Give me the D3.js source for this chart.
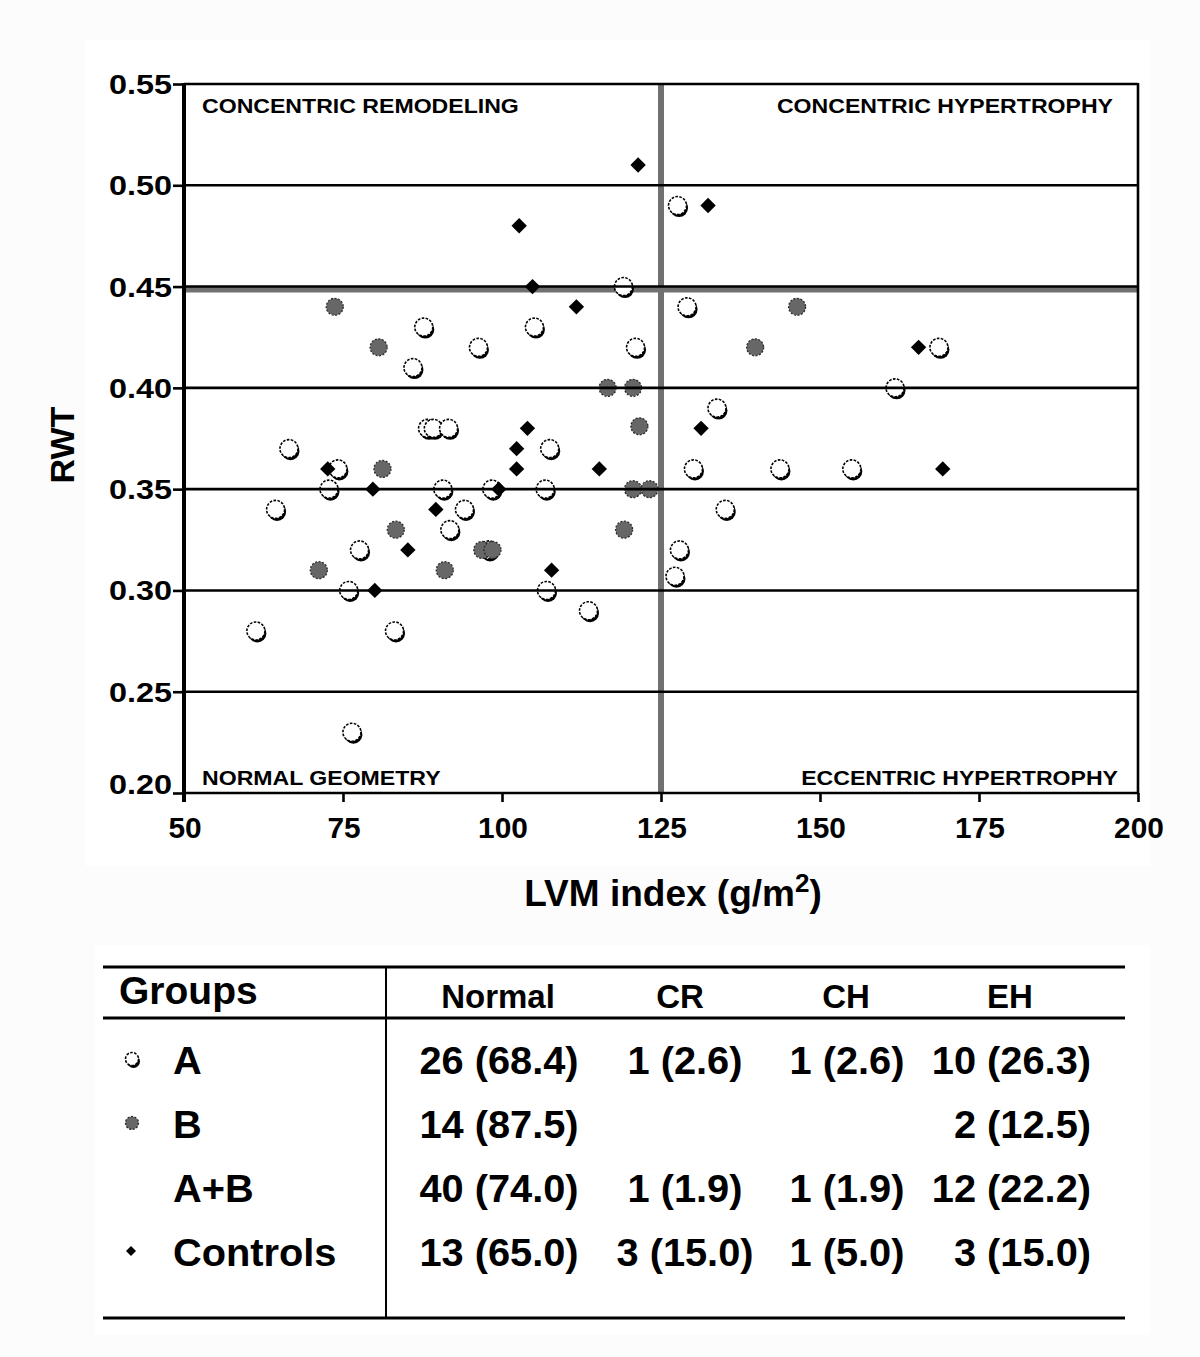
<!DOCTYPE html>
<html><head><meta charset="utf-8">
<script src="https://cdn.jsdelivr.net/npm/d3@7"></script>
<style>
html,body{margin:0;padding:0;background:#fcfcfc;}
svg{display:block;}
text{font-family:"Liberation Sans",Arial,Helvetica,sans-serif;font-weight:bold;fill:#000;}
</style></head>
<body>
<svg id="c" width="1200" height="1357"></svg>
<script>
// ---- data ----
const groupA_x = [61.3,64.4,66.5,72.8,74.2,75.9,76.4,77.6,83.1,86.0,87.7,88.3,89.2,91.6,90.7,91.8,94.1,96.3,98.4,97.9,105.1,106.8,107.5,107.0,113.6,119.1,121.0,127.6,127.9,127.2,129.1,130.1,133.8,135.1,143.7,155.0,161.8,168.7];
const groupA_y = [0.28,0.34,0.37,0.35,0.36,0.30,0.23,0.32,0.28,0.41,0.43,0.38,0.38,0.38,0.35,0.33,0.34,0.42,0.35,0.32,0.43,0.35,0.37,0.30,0.29,0.45,0.42,0.49,0.32,0.307,0.44,0.36,0.39,0.34,0.36,0.36,0.40,0.42];
const groupB_x = [73.7,80.6,81.2,83.3,71.2,91.0,96.9,98.5,116.6,120.6,121.6,120.6,123.2,119.2,139.8,146.4];
const groupB_y = [0.44,0.42,0.36,0.33,0.31,0.31,0.32,0.32,0.40,0.40,0.381,0.35,0.35,0.33,0.42,0.44];
const controls_x = [121.4,102.7,132.4,104.8,111.7,165.5,104.0,131.3,102.3,102.3,115.3,72.6,169.3,79.7,99.5,89.6,85.2,107.8,80.0];
const controls_y = [0.51,0.48,0.49,0.45,0.44,0.42,0.38,0.38,0.37,0.36,0.36,0.36,0.36,0.35,0.35,0.34,0.32,0.31,0.30];

const xTicks = [50,75,100,125,150,175,200];
const yTicks = [0.20,0.25,0.30,0.35,0.40,0.45,0.50,0.55];
const lvmCut = 125, rwtCut = 0.45;
const quadrantLabels = ["CONCENTRIC REMODELING","CONCENTRIC HYPERTROPHY","NORMAL GEOMETRY","ECCENTRIC HYPERTROPHY"];

const tableHeader = ["Groups","Normal","CR","CH","EH"];
const tableGroups = ["A","B","A+B","Controls"];
const colNormal = ["26 (68.4)","14 (87.5)","40 (74.0)","13 (65.0)"];
const colCR = ["1 (2.6)","","1 (1.9)","3 (15.0)"];
const colCH = ["1 (2.6)","","1 (1.9)","1 (5.0)"];
const colEH = ["10 (26.3)","2 (12.5)","12 (22.2)","3 (15.0)"];
const tableSymbols = ["A","B",null,"C"];

// ---- drawing ----
const svg = d3.select("#c");
svg.append("rect").attr("x",85).attr("y",40).attr("width",1065).attr("height",826).attr("fill","#fff");
svg.append("rect").attr("x",95).attr("y",945).attr("width",1055).attr("height",390).attr("fill","#fff");

const x = d3.scaleLinear().domain([50,200]).range([184,1138]);
const y = d3.scaleLinear().domain([0.20,0.55]).range([793,84]);

function txt(g, px, py, s, size, anchor, sx){
  return g.append("text").attr("transform",`translate(${px},${py}) scale(${sx||1},1)`)
    .attr("text-anchor",anchor||"start").attr("font-size",size).text(s);
}

const plot = svg.append("g");

const pA = groupA_x.map((v,i)=>({x:v,y:groupA_y[i]}));
const pB = groupB_x.map((v,i)=>({x:v,y:groupB_y[i]}));
const pC = controls_x.map((v,i)=>({x:v,y:controls_y[i]}));

function drawA(g, cx, cy, r){
  g.append("circle").attr("cx",cx+1.5).attr("cy",cy+2.5).attr("r",r).attr("fill","#000");
  g.append("circle").attr("cx",cx).attr("cy",cy).attr("r",r).attr("fill","#fff")
    .attr("stroke","#000").attr("stroke-width",1.6).attr("stroke-dasharray","2.6,1.4");
}
function drawB(g, cx, cy, r){
  g.append("circle").attr("cx",cx).attr("cy",cy).attr("r",r).attr("fill","#676767")
    .attr("stroke","#2a2a2a").attr("stroke-width",1.3).attr("stroke-dasharray","2,1.6");
}
const diamond = d3.symbol().type(d3.symbolSquare);
function drawC(g, cx, cy, size){
  g.append("path").attr("d",diamond.size(size)()).attr("transform",`translate(${cx},${cy}) rotate(45)`).attr("fill","#000");
}

plot.append("line").attr("x1",x(lvmCut)).attr("x2",x(lvmCut)).attr("y1",y(0.55)).attr("y2",y(0.20))
  .attr("stroke","#707070").attr("stroke-width",6);
plot.append("line").attr("x1",x(50)).attr("x2",x(200)).attr("y1",y(rwtCut)+3).attr("y2",y(rwtCut)+3)
  .attr("stroke","#707070").attr("stroke-width",6);

const pts = svg.append("g");
pA.forEach(d=>drawA(pts, x(d.x), y(d.y), 9));
pB.forEach(d=>drawB(pts, x(d.x), y(d.y), 8.5));
pC.forEach(d=>drawC(pts, x(d.x), y(d.y), 118));

const grid = svg.append("g");
yTicks.forEach(t=>{
  grid.append("line").attr("x1",x(50)).attr("x2",x(200)).attr("y1",y(t)).attr("y2",y(t))
    .attr("stroke","#000").attr("stroke-width",2.6);
});
grid.append("line").attr("x1",x(200)).attr("x2",x(200)).attr("y1",y(0.55)-1).attr("y2",y(0.20)+1)
  .attr("stroke","#000").attr("stroke-width",2.6);

const yAxis = d3.axisLeft(y).tickValues(yTicks).tickFormat(d3.format(".2f")).tickSize(11).tickPadding(2);
const ya = svg.append("g").attr("transform",`translate(${x(50)},0)`).call(yAxis);
ya.select(".domain").remove();
ya.selectAll(".tick line").attr("stroke","#000").attr("stroke-width",2.6);
ya.selectAll(".tick text").remove();
yTicks.forEach(t=>{
  const off = t===0.20 ? -9 : 0;
  txt(svg, 172, y(t)+10+off, d3.format(".2f")(t), 27, "end", 1.2);
});
svg.append("line").attr("x1",x(50)).attr("x2",x(50)).attr("y1",y(0.55)-1).attr("y2",y(0.20)+9)
  .attr("stroke","#000").attr("stroke-width",4);

const xAxis = d3.axisBottom(x).tickValues(xTicks).tickSize(9).tickFormat("");
const xa = svg.append("g").attr("transform",`translate(0,${y(0.20)})`).call(xAxis);
xa.select(".domain").remove();
xa.selectAll(".tick line").attr("stroke","#000").attr("stroke-width",2.6);
xTicks.forEach(t=>{
  txt(svg, x(t)+1, 838, String(t), 29, "middle", 1.03);
});

txt(svg, 202, 113, quadrantLabels[0], 21, "start", 1.1);
txt(svg, 1113, 113, quadrantLabels[1], 21, "end", 1.1);
txt(svg, 202, 785, quadrantLabels[2], 21, "start", 1.1);
txt(svg, 1118, 785, quadrantLabels[3], 21, "end", 1.1);

svg.append("text").attr("transform","translate(74,445) rotate(-90)").attr("text-anchor","middle")
  .attr("font-size",34).text("RWT");
const xt = svg.append("text").attr("x",673).attr("y",906).attr("text-anchor","middle").attr("font-size",37);
xt.append("tspan").text("LVM index (g/m");
xt.append("tspan").attr("font-size",26).attr("dy",-14).text("2");
xt.append("tspan").attr("dy",14).text(")");

// ---- table ----
const tb = svg.append("g");
const L = 103, R = 1125;
tb.append("line").attr("x1",L).attr("x2",R).attr("y1",967).attr("y2",967).attr("stroke","#000").attr("stroke-width",3);
tb.append("line").attr("x1",L).attr("x2",R).attr("y1",1018).attr("y2",1018).attr("stroke","#000").attr("stroke-width",3);
tb.append("line").attr("x1",L).attr("x2",R).attr("y1",1318).attr("y2",1318).attr("stroke","#000").attr("stroke-width",3);
tb.append("line").attr("x1",386).attr("x2",386).attr("y1",966).attr("y2",1318).attr("stroke","#000").attr("stroke-width",2);

txt(tb, 119, 1004, tableHeader[0], 39, "start", 1.0);
txt(tb, 498, 1008, tableHeader[1], 33, "middle", 1.0);
txt(tb, 680, 1008, tableHeader[2], 33, "middle", 1.0);
txt(tb, 846, 1008, tableHeader[3], 33, "middle", 1.0);
txt(tb, 1010, 1008, tableHeader[4], 33, "middle", 1.0);

const rowY = [1074, 1138, 1202, 1266];
tableGroups.forEach((g,i)=>{
  txt(tb, 173, rowY[i], g, 39, "start", 1.02);
  txt(tb, 499, rowY[i], colNormal[i], 39, "middle", 1.02);
  if (colCR[i]) txt(tb, 685, rowY[i], colCR[i], 39, "middle", 1.02);
  if (colCH[i]) txt(tb, 847, rowY[i], colCH[i], 39, "middle", 1.02);
  txt(tb, 1091, rowY[i], colEH[i], 39, "end", 1.02);
  const sy = rowY[i]-15;
  if (tableSymbols[i]==="A") drawA(tb, 132, sy, 6.5);
  if (tableSymbols[i]==="B") drawB(tb, 132, sy, 6.5);
  if (tableSymbols[i]==="C") drawC(tb, 131, sy, 50);
});
</script>
</body></html>
